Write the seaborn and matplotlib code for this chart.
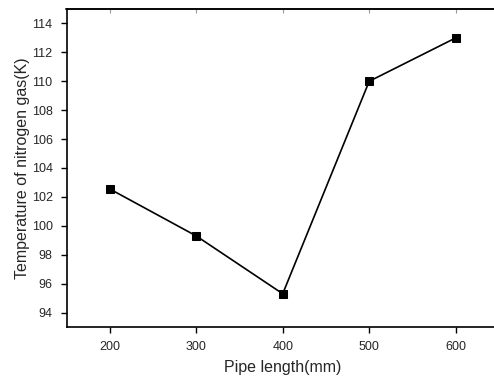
import matplotlib
matplotlib.use("Agg")
import matplotlib.pyplot as plt
import seaborn as sns
import pandas as pd

pipe_length = [200, 300, 400, 500, 600]
temperature = [102.55, 99.3, 95.3, 110.0, 113.0]
x_ticks = [200, 300, 400, 500, 600]
y_ticks = [94, 96, 98, 100, 102, 104, 106, 108, 110, 112, 114]

sns.set_theme(style="ticks")
plt.rcParams['font.family'] = ['Liberation Sans', 'DejaVu Sans']

df = pd.DataFrame({"x": pipe_length, "y": temperature})

fig = plt.figure(figsize=(4.94, 3.76), dpi=100)
ax = fig.add_axes([66.5 / 494, 49 / 376, 1 - 66.5 / 494 + 0.01, (327 - 9) / 376])
sns.lineplot(data=df, x="x", y="y", ax=ax, color="black", linewidth=1.2,
             marker="s", markersize=6, markeredgecolor="black", markerfacecolor="black")
ax.set_xlim(150, 650)
ax.set_ylim(93, 115)
ax.set_xticks(x_ticks)
ax.set_yticks(y_ticks)
ax.tick_params(axis="both", labelsize=9, direction="out", length=4.5, width=1,
               color="black", pad=5.5)
ax.set_xlabel("Pipe length(mm)", fontsize=11.5, labelpad=5)
ax.set_ylabel("Temperature of nitrogen gas(K)", fontsize=11.5, labelpad=1)
for s in ["left", "bottom", "top"]:
    ax.spines[s].set_linewidth(1.2)
    ax.spines[s].set_color("black")
ax.spines["right"].set_visible(False)

# faint inward ticks on the top spine
ax_top = ax.secondary_xaxis("top")
ax_top.set_xticks(x_ticks)
ax_top.tick_params(axis="x", direction="in", length=3, width=0.8, color="#999999",
                   labeltop=False)

fig.savefig("out.png", dpi=100)
